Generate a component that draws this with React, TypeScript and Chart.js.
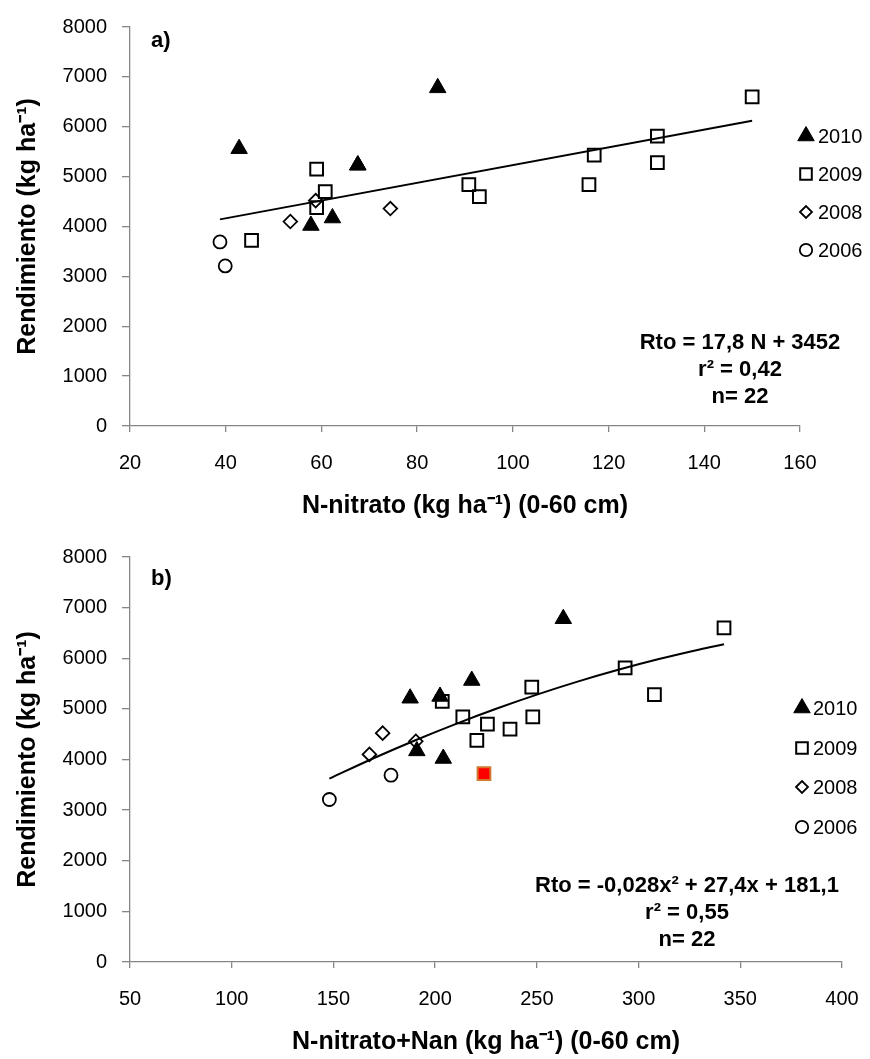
import React, { useEffect, useRef } from "react";
import { Chart, registerables, PointElement } from "chart.js";

Chart.register(...registerables);

const FONT = "'Liberation Sans', Arial, Helvetica, sans-serif";
const AXIS_COLOR = "#868686";

// ---------- shared ----------
const SERIES = ["2010", "2009", "2008", "2006"];
const Y_TICKS = [0, 1000, 2000, 3000, 4000, 5000, 6000, 7000, 8000];
const Y_TITLE = "Rendimiento (kg ha\u207B\u00B9)";

// ---------- panel a) ----------
const A_X_TICKS = [20, 40, 60, 80, 100, 120, 140, 160];
const A_X_TITLE = "N-nitrato (kg ha\u207B\u00B9) (0-60 cm)";
const A_2010_X = [84.3, 42.8, 67.6, 67.6, 62.3, 57.8];
const A_2010_Y = [6780, 5560, 5230, 5230, 4170, 4020];
const A_2009_X = [59, 60.8, 59, 45.4, 90.8, 93, 117, 115.9, 130.2, 130.2, 150];
const A_2009_Y = [5150, 4700, 4380, 3720, 4840, 4600, 5430, 4840, 5810, 5280, 6600];
const A_2008_X = [58.8, 53.5, 74.4];
const A_2008_Y = [4520, 4100, 4360];
const A_2006_X = [38.8, 39.9];
const A_2006_Y = [3690, 3210];
const A_TREND_X = [38.8, 150];
const A_TREND_Y = [4143, 6122];
const A_EQUATION = ["Rto = 17,8 N + 3452", "r\u00B2 = 0,42", "n= 22"];

// ---------- panel b) ----------
const B_X_TICKS = [50, 100, 150, 200, 250, 300, 350, 400];
const B_X_TITLE = "N-nitrato+Nan (kg ha\u207B\u00B9) (0-60 cm)";
const B_2010_X = [263, 218, 187.7, 202.4, 191, 204];
const B_2010_Y = [6780, 5560, 5210, 5245, 4170, 4020];
const B_2009_X = [342, 293.4, 247.5, 307.8, 203.5, 213.6, 248, 225.7, 236.8, 220.5, 224];
const B_2009_Y = [6600, 5810, 5430, 5280, 5150, 4840, 4840, 4700, 4600, 4380, 3720];
const B_2009_HIGHLIGHT = [10];
const B_2008_X = [174.2, 167.7, 190.5];
const B_2008_Y = [4520, 4100, 4360];
const B_2006_X = [178.3, 148];
const B_2006_Y = [3690, 3210];
const B_TREND_X = [148, 170, 190, 210, 230, 250, 270, 290, 310, 330, 342];
const B_TREND_Y = [3623, 4030, 4376, 4700, 5002, 5281, 5538, 5772, 5984, 6174, 6277];
const B_EQUATION = ["Rto = -0,028x\u00B2 + 27,4x + 181,1", "r\u00B2 = 0,55", "n= 22"];

// ---------- styles ----------
const MARKERS = [
  { pointStyle: "triangle", radius: 9.5, legendRadius: 9.5, fill: "#000000", border: "#000000", bw: 1 },
  { pointStyle: "rect", radius: 9, legendRadius: 8.2, fill: "rgba(0,0,0,0)", border: "#000000", bw: 2 },
  { pointStyle: "rectRot", radius: 6.8, legendRadius: 6, fill: "rgba(0,0,0,0)", border: "#000000", bw: 1.8 },
  { pointStyle: "circle", radius: 6.5, legendRadius: 6.2, fill: "rgba(0,0,0,0)", border: "#000000", bw: 1.8 },
];

interface SeriesSpec { x: number[]; y: number[]; highlight?: number[] }
interface PanelSpec {
  tag: string;
  xTicks: number[];
  xTitle: string;
  series: SeriesSpec[];
  trendX: number[];
  trendY: number[];
  smooth: boolean;
  equation: string[];
  width: number;
  height: number;
  area: { left: number; right: number; top: number; bottom: number };
  tagPos: { x: number; y: number };
  eqPos: { x: number; ys: number[] };
  legendPos: { x: number; tx: number; ys: number[] };
  xTickLineHeight: number;
  xTitlePad: number;
}

const PANEL_A: PanelSpec = {
  tag: "a)",
  xTicks: A_X_TICKS,
  xTitle: A_X_TITLE,
  series: [
    { x: A_2010_X, y: A_2010_Y },
    { x: A_2009_X, y: A_2009_Y },
    { x: A_2008_X, y: A_2008_Y },
    { x: A_2006_X, y: A_2006_Y },
  ],
  trendX: A_TREND_X,
  trendY: A_TREND_Y,
  smooth: false,
  equation: A_EQUATION,
  width: 870,
  height: 530,
  area: { left: 130, right: 800, top: 19, bottom: 426 },
  tagPos: { x: 151, y: 41 },
  eqPos: { x: 740, ys: [343, 370, 397] },
  legendPos: { x: 806, tx: 818, ys: [136, 174, 212, 250] },
  xTickLineHeight: 2.2,
  xTitlePad: 9,
};

const PANEL_B: PanelSpec = {
  tag: "b)",
  xTicks: B_X_TICKS,
  xTitle: B_X_TITLE,
  series: [
    { x: B_2010_X, y: B_2010_Y },
    { x: B_2009_X, y: B_2009_Y, highlight: B_2009_HIGHLIGHT },
    { x: B_2008_X, y: B_2008_Y },
    { x: B_2006_X, y: B_2006_Y },
  ],
  trendX: B_TREND_X,
  trendY: B_TREND_Y,
  smooth: true,
  equation: B_EQUATION,
  width: 870,
  height: 529,
  area: { left: 130, right: 842, top: 25, bottom: 432 },
  tagPos: { x: 151, y: 49 },
  eqPos: { x: 687, ys: [356, 383, 410] },
  legendPos: { x: 802, tx: 813, ys: [178, 218, 257, 297] },
  xTickLineHeight: 2.2,
  xTitlePad: 2,
};

function makeAnnotPlugin(p: PanelSpec) {
  return {
    id: "panelAnnotations",
    afterDraw(chart: any) {
      const ctx: CanvasRenderingContext2D = chart.ctx;
      ctx.save();
      ctx.fillStyle = "#000";
      ctx.textBaseline = "middle";
      // panel tag
      ctx.textAlign = "left";
      ctx.font = `bold 22px ${FONT}`;
      ctx.fillText(p.tag, p.tagPos.x, p.tagPos.y);
      // equation block
      ctx.textAlign = "center";
      p.equation.forEach((line, i) => ctx.fillText(line, p.eqPos.x, p.eqPos.ys[i]));
      // legend
      const area = { left: 0, top: 0, right: chart.width, bottom: chart.height };
      SERIES.forEach((name, i) => {
        const m = MARKERS[i];
        const pt: any = new (PointElement as any)({
          x: p.legendPos.x,
          y: p.legendPos.ys[i],
          options: {
            pointStyle: m.pointStyle,
            radius: m.legendRadius,
            rotation: 0,
            borderWidth: m.bw,
            backgroundColor: m.fill,
            borderColor: m.border,
          },
        });
        pt.draw(ctx, area);
        ctx.fillStyle = "#000";
        ctx.font = `20px ${FONT}`;
        ctx.textAlign = "left";
        ctx.textBaseline = "middle";
        ctx.fillText(name, p.legendPos.tx, p.legendPos.ys[i] + 1);
      });
      ctx.restore();
    },
  };
}

function buildConfig(p: PanelSpec): any {
  const datasets: any[] = p.series.map((s, i) => {
    const m = MARKERS[i];
    const hl = s.highlight || [];
    return {
      label: SERIES[i],
      data: s.x.map((x, j) => ({ x, y: s.y[j] })),
      showLine: false,
      pointStyle: m.pointStyle,
      pointRadius: m.radius,
      pointHoverRadius: m.radius,
      pointBackgroundColor: s.x.map((_, j) => (hl.includes(j) ? "#FF0000" : m.fill)),
      pointBorderColor: s.x.map((_, j) => (hl.includes(j) ? "#D2782E" : m.border)),
      pointBorderWidth: m.bw,
      order: i,
    };
  });
  datasets.push({
    label: "Tendencia",
    data: p.trendX.map((x, j) => ({ x, y: p.trendY[j] })),
    showLine: true,
    pointRadius: 0,
    pointHoverRadius: 0,
    borderColor: "#000000",
    borderWidth: 2,
    fill: false,
    cubicInterpolationMode: p.smooth ? "monotone" : "default",
    order: -1,
  });

  const yTickFont = { family: FONT, size: 20 };
  const xTickFont = { family: FONT, size: 20, lineHeight: p.xTickLineHeight };
  const titleFont = { family: FONT, size: 25, weight: "bold" as const, lineHeight: 1.2 };

  return {
    type: "scatter",
    data: { datasets },
    options: {
      responsive: false,
      maintainAspectRatio: false,
      devicePixelRatio: 1,
      animation: false,
      events: [],
      layout: {
        padding: { left: 0, top: p.area.top, right: p.width - p.area.right, bottom: 0 },
      },
      plugins: { legend: { display: false }, tooltip: { enabled: false } },
      scales: {
        x: {
          type: "linear",
          min: p.xTicks[0],
          max: p.xTicks[p.xTicks.length - 1],
          afterBuildTicks: (s: any) => {
            s.ticks = p.xTicks.map((v) => ({ value: v }));
          },
          afterFit: (s: any) => {
            s.height = p.height - p.area.bottom;
          },
          ticks: {
            color: "#000",
            font: xTickFont,
            padding: 9,
            autoSkip: false,
            maxRotation: 0,
            minRotation: 0,
            callback: (v: any) => String(v),
          },
          grid: {
            display: true,
            drawOnChartArea: false,
            drawTicks: true,
            tickLength: 6,
            color: AXIS_COLOR,
            lineWidth: 1.3,
          },
          border: { display: true, color: AXIS_COLOR, width: 1.3 },
          title: {
            display: true,
            text: p.xTitle,
            color: "#000",
            font: titleFont,
            padding: { top: 0, bottom: p.xTitlePad },
          },
        },
        y: {
          type: "linear",
          min: Y_TICKS[0],
          max: Y_TICKS[Y_TICKS.length - 1],
          afterBuildTicks: (s: any) => {
            s.ticks = Y_TICKS.map((v) => ({ value: v }));
          },
          afterFit: (s: any) => {
            s.width = p.area.left;
          },
          ticks: {
            color: "#000",
            font: yTickFont,
            padding: 15,
            callback: (v: any) => String(v),
          },
          grid: {
            display: true,
            drawOnChartArea: false,
            drawTicks: true,
            tickLength: 8,
            color: AXIS_COLOR,
            lineWidth: 1.3,
          },
          border: { display: true, color: AXIS_COLOR, width: 1.3 },
          title: {
            display: true,
            text: Y_TITLE,
            color: "#000",
            font: titleFont,
            padding: { top: 13, bottom: 0 },
          },
        },
      },
    },
    plugins: [makeAnnotPlugin(p)],
  };
}

function Panel({ spec, top }: { spec: PanelSpec; top: number }) {
  const ref = useRef<HTMLCanvasElement | null>(null);
  useEffect(() => {
    if (!ref.current) return;
    const chart = new Chart(ref.current, buildConfig(spec));
    return () => chart.destroy();
  }, [spec]);
  return (
    <canvas
      ref={ref}
      width={spec.width}
      height={spec.height}
      style={{ position: "absolute", left: 0, top, width: spec.width, height: spec.height, display: "block" }}
    />
  );
}

export default function App() {
  return (
    <div
      style={{
        position: "absolute",
        left: 0,
        top: 0,
        width: 870,
        height: 1059,
        background: "#ffffff",
        overflow: "hidden",
      }}
    >
      <Panel spec={PANEL_A} top={0} />
      <Panel spec={PANEL_B} top={530} />
    </div>
  );
}
